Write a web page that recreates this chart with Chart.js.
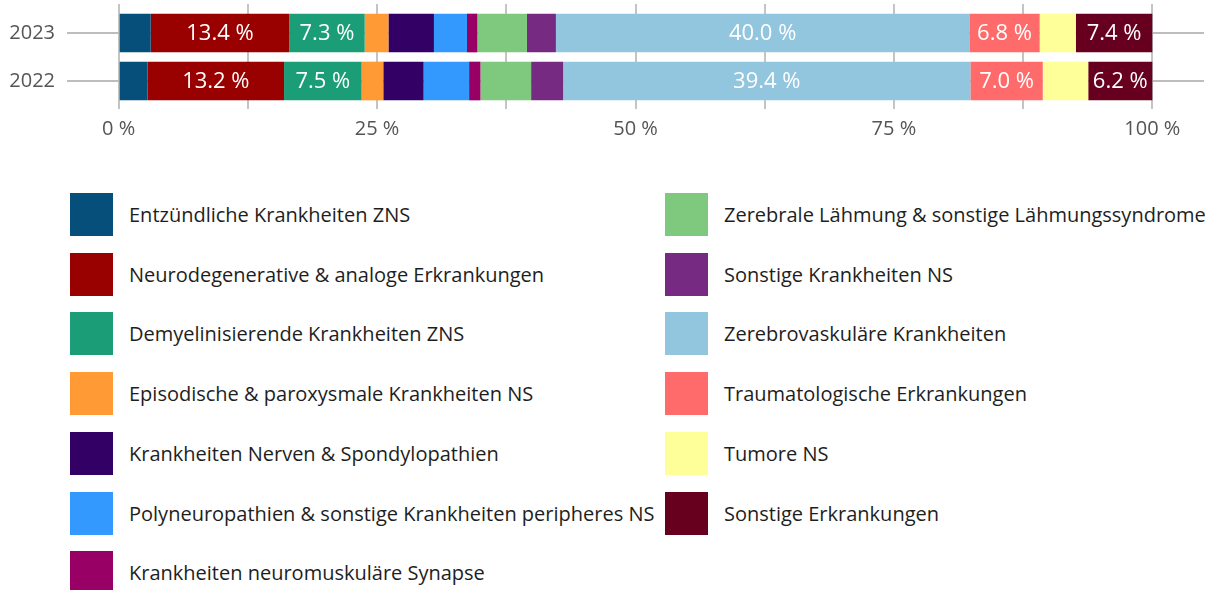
<!DOCTYPE html>
<html lang="de">
<head>
<meta charset="utf-8">
<title>Diagnosegruppen 2022/2023</title>
<script src="https://cdn.jsdelivr.net/npm/chart.js@4/dist/chart.umd.min.js"></script>
<style>
  body { margin: 0; background: #fff; font-family: 'Open Sans', sans-serif; }
  #wrap { position: relative; width: 1208px; height: 590px; overflow: hidden; }
  #chart { position: absolute; left: 0; top: 0; }
  #legend { position: absolute; left: 0; top: 0; }
  .item { position: absolute; height: 43px; display: flex; align-items: center; }
  .box { width: 43px; height: 43px; flex: none; }
  .txt { margin-left: 16px; font-size: 20px; color: #1e1e1e; white-space: nowrap; }
</style>
</head>
<body>
<div id="wrap">
  <canvas id="chart" width="1208" height="150"></canvas>
  <div id="legend"></div>
</div>
<script>
const years = ['2023', '2022'];

const categories = [
    'Entzündliche Krankheiten ZNS',
    'Neurodegenerative & analoge Erkrankungen',
    'Demyelinisierende Krankheiten ZNS',
    'Episodische & paroxysmale Krankheiten NS',
    'Krankheiten Nerven & Spondylopathien',
    'Polyneuropathien & sonstige Krankheiten peripheres NS',
    'Krankheiten neuromuskuläre Synapse',
    'Zerebrale Lähmung & sonstige Lähmungssyndrome',
    'Sonstige Krankheiten NS',
    'Zerebrovaskuläre Krankheiten',
    'Traumatologische Erkrankungen',
    'Tumore NS',
    'Sonstige Erkrankungen'
];

// shares in percent, same order as categories
const values2023 = [3.1, 13.4, 7.3, 2.3, 4.4, 3.2, 1.0, 4.8, 2.8, 40.0, 6.8, 3.5, 7.4];
const values2022 = [2.8, 13.2, 7.5, 2.1, 3.9, 4.4, 1.1, 4.9, 3.1, 39.4, 7.0, 4.4, 6.2];

const colors = [
    '#064f7a', '#990000', '#1b9e77', '#ff9a35', '#330066', '#3399ff', '#990066',
    '#7fc97f', '#772a82', '#92c5de', '#ff6b6b', '#ffff99', '#67001f'
];

const gridTicks = [0, 12.5, 25, 37.5, 50, 62.5, 75, 87.5, 100];
const labeledTicks = [0, 25, 50, 75, 100];

const minLabelValue = 6;

Chart.defaults.font.family = "'Open Sans', sans-serif";

function fmt(v) {
    return v.toFixed(1) + ' %';
}

// white value labels inside the wider segments
const barLabels = {
    id: 'barLabels',
    afterDatasetsDraw(chart) {
        const ctx = chart.ctx;
        ctx.save();
        ctx.fillStyle = '#ffffff';
        ctx.font = "22px 'Open Sans', sans-serif";
        ctx.textAlign = 'center';
        ctx.textBaseline = 'middle';
        chart.data.datasets.forEach((ds, i) => {
            const meta = chart.getDatasetMeta(i);
            meta.data.forEach((bar, j) => {
                const v = ds.data[j];
                if (v < minLabelValue) return;
                const p = bar.getProps(['x', 'y', 'base'], true);
                ctx.fillText(fmt(v), (p.x + p.base) / 2, p.y + 1);
            });
        });
        ctx.restore();
    }
};

const datasets = categories.map((name, i) => ({
    label: name,
    data: [values2023[i], values2022[i]],
    backgroundColor: colors[i],
    borderWidth: 0,
    barPercentage: 0.806,
    categoryPercentage: 1
}));

const setTicks = axis => { axis.ticks = gridTicks.map(v => ({ value: v })); };

const chart = new Chart(document.getElementById('chart'), {
    type: 'bar',
    data: { labels: years, datasets: datasets },
    options: {
        indexAxis: 'y',
        responsive: false,
        animation: false,
        layout: { padding: { top: 4, right: 4, bottom: 9, left: 0 } },
        plugins: {
            legend: { display: false },
            tooltip: { enabled: false }
        },
        scales: {
            x: {
                stacked: true,
                min: -5,
                max: 105,
                afterBuildTicks: setTicks,
                afterFit: axis => { axis.height = 36; },
                border: { display: false },
                grid: { color: '#c4c4c4', lineWidth: 2, tickLength: 4 },
                ticks: {
                    color: '#555555',
                    font: { size: 20 },
                    padding: 8,
                    maxRotation: 0,
                    autoSkip: false,
                    callback: v => labeledTicks.includes(v) ? v + ' %' : ''
                }
            },
            xTop: {
                position: 'top',
                min: -5,
                max: 105,
                afterBuildTicks: setTicks,
                afterFit: axis => { axis.height = 5; },
                border: { display: false },
                grid: { color: '#c4c4c4', lineWidth: 2, tickLength: 5, drawOnChartArea: false },
                ticks: { display: false }
            },
            y: {
                stacked: true,
                afterFit: axis => {
                    axis.width = 67;
                    axis.paddingTop = 0;
                    axis.paddingBottom = 0;
                },
                border: { display: false },
                grid: { color: '#bdbdbd', lineWidth: 2, offset: false, drawTicks: false },
                ticks: { color: '#555555', font: { size: 20 }, padding: 12 }
            }
        }
    },
    plugins: [barLabels]
});

// legend in two columns below the chart
const legend = document.getElementById('legend');
const perColumn = 7;
chart.data.datasets.forEach((ds, i) => {
    const col = Math.floor(i / perColumn);
    const row = i % perColumn;
    const item = document.createElement('div');
    item.className = 'item';
    item.style.left = (col === 0 ? 70 : 665) + 'px';
    item.style.top = (193 + row * 59.7) + 'px';
    item.innerHTML = '<div class="box" style="background:' + ds.backgroundColor + '"></div>' +
        '<div class="txt">' + ds.label + '</div>';
    legend.appendChild(item);
});
</script>
</body>
</html>
